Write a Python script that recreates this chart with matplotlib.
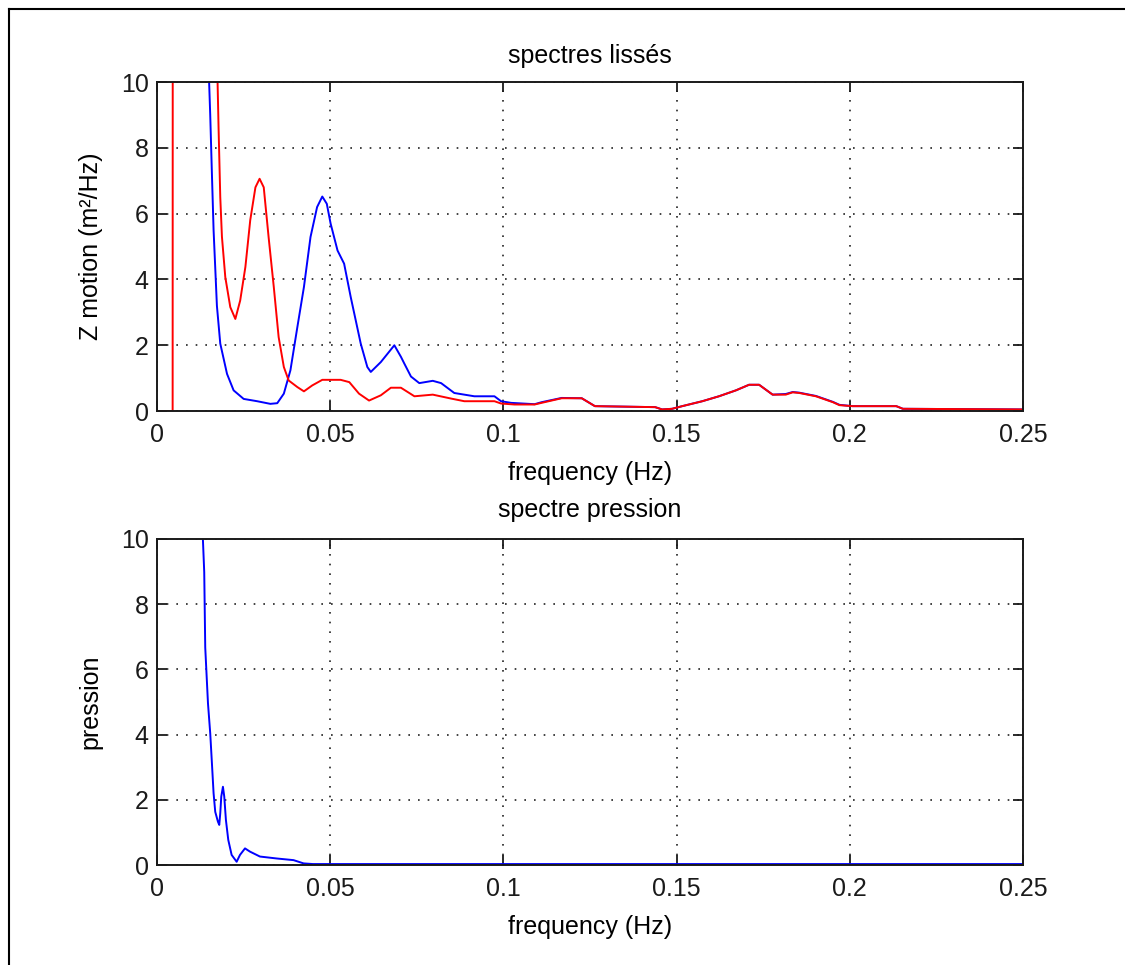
import matplotlib
matplotlib.use("Agg")
import matplotlib.pyplot as plt
from matplotlib.lines import Line2D

# smoothed spectra, Z motion (m2/Hz) -- blue series
freq_z_blue = [0.0100, 0.01487, 0.01535, 0.01584, 0.01632, 0.01728, 0.01825, 0.0202, 0.0221,
               0.0250, 0.0289, 0.0327, 0.0347, 0.0366, 0.0385, 0.0405, 0.0424, 0.0443, 0.0462,
               0.0477, 0.0490, 0.0501, 0.0521, 0.0540, 0.0559, 0.0588, 0.0607, 0.0617, 0.0646,
               0.0685, 0.0704, 0.0714, 0.0733, 0.0757, 0.0796, 0.0820, 0.0858, 0.0916, 0.0974,
               0.0993, 0.1022, 0.1090, 0.1110, 0.1168, 0.1226, 0.1264, 0.1438, 0.1458, 0.1487,
               0.1516, 0.1574, 0.1622, 0.1671, 0.1709, 0.1738, 0.1777, 0.1815, 0.1835, 0.1854,
               0.1902, 0.1951, 0.1970, 0.2008, 0.2134, 0.2153, 0.2500]
z_blue = [30.0, 10.5, 9.0, 7.2, 5.5, 3.2, 2.05, 1.13, 0.63,
          0.37, 0.30, 0.22, 0.24, 0.53, 1.24, 2.55, 3.77, 5.29, 6.2,
          6.52, 6.3, 5.7, 4.88, 4.48, 3.47, 2.05, 1.34, 1.19, 1.49,
          2.0, 1.65, 1.44, 1.05, 0.85, 0.92, 0.85, 0.55, 0.45, 0.45,
          0.30, 0.25, 0.21, 0.27, 0.40, 0.39, 0.15, 0.12, 0.05, 0.07,
          0.15, 0.30, 0.45, 0.63, 0.80, 0.80, 0.50, 0.52, 0.58, 0.56,
          0.46, 0.28, 0.19, 0.15, 0.15, 0.07, 0.05]

# smoothed spectra -- red series
freq_z_red = [0.0, 0.0045, 0.0046, 0.0170, 0.01747, 0.01776, 0.01825, 0.01873, 0.0197,
              0.02114, 0.0226, 0.0240, 0.0255, 0.0269, 0.0284, 0.0296, 0.0308, 0.0322,
              0.0337, 0.0351, 0.0366, 0.0380, 0.0405, 0.0424, 0.0448, 0.0477, 0.0530,
              0.0555, 0.0583, 0.0612, 0.0646, 0.0675, 0.0704, 0.0743, 0.0796, 0.0849,
              0.0887, 0.0974, 0.0993, 0.1032, 0.1090, 0.1110, 0.1168, 0.1226, 0.1264,
              0.1438, 0.1458, 0.1487, 0.1516, 0.1574, 0.1622, 0.1671, 0.1709, 0.1738,
              0.1777, 0.1815, 0.1835, 0.1854, 0.1902, 0.1951, 0.1970, 0.2008, 0.2134,
              0.2153, 0.2500]
z_red = [0.0, 0.0, 40.0, 40.0, 10.0, 8.6, 6.5, 5.3, 4.07,
         3.16, 2.8, 3.36, 4.38, 5.8, 6.8, 7.06, 6.8, 5.29,
         3.77, 2.25, 1.34, 0.93, 0.73, 0.60, 0.78, 0.95, 0.95,
         0.88, 0.53, 0.32, 0.48, 0.71, 0.71, 0.45, 0.50, 0.38,
         0.30, 0.30, 0.23, 0.20, 0.20, 0.25, 0.39, 0.39, 0.15,
         0.12, 0.05, 0.07, 0.15, 0.30, 0.45, 0.63, 0.80, 0.80,
         0.50, 0.50, 0.57, 0.55, 0.45, 0.27, 0.18, 0.15, 0.15,
         0.07, 0.05]

# pressure spectrum
freq_p = [0.0100, 0.01323, 0.01362, 0.01391, 0.0147, 0.01535, 0.01584, 0.01632, 0.0168,
          0.01757, 0.01796, 0.01825, 0.01854, 0.01902, 0.0194, 0.01988, 0.02056, 0.02153,
          0.02298, 0.02394, 0.02539, 0.02684, 0.0297, 0.0346, 0.0394, 0.0423, 0.0450, 0.2500]
pression = [30.0, 10.0, 8.98, 6.67, 4.96, 4.04, 3.12, 2.2, 1.63,
            1.33, 1.23, 1.59, 2.1, 2.4, 2.1, 1.38, 0.77, 0.31,
            0.10, 0.31, 0.51, 0.41, 0.26, 0.20, 0.15, 0.05, 0.03, 0.03]

x_ticks = [0, 0.05, 0.1, 0.15, 0.2, 0.25]
x_tick_labels = ["0", "0.05", "0.1", "0.15", "0.2", "0.25"]
y_ticks = [0, 2, 4, 6, 8, 10]

plt.rcParams["font.family"] = ["Liberation Sans", "DejaVu Sans"]
plt.rcParams["font.size"] = 18


def style_axes(ax, title, ylabel, title_pad):
    ax.set_xlim(0, 0.25)
    ax.set_ylim(0, 10)
    ax.set_xticks(x_ticks)
    ax.set_xticklabels(x_tick_labels)
    ax.set_yticks(y_ticks)
    ax.tick_params(direction="in", length=7.5, width=1.3, top=True, right=True,
                   labelsize=18, colors="#1a1a1a")
    ax.tick_params(axis="x", pad=8.5)
    ax.tick_params(axis="y", pad=6)
    for sp in ax.spines.values():
        sp.set_linewidth(1.4)
        sp.set_color("#1a1a1a")
    ax.grid(True, color="#222222", linestyle=(0, (1, 4.8)), linewidth=1.2)
    ax.set_title(title, fontsize=18, pad=title_pad)
    ax.set_xlabel("frequency (Hz)", fontsize=18, labelpad=10)
    ax.set_ylabel(ylabel, fontsize=18, labelpad=13)


fig = plt.figure(figsize=(11.25, 9.65), dpi=100)
ax1 = fig.add_axes([0.1396, 0.574, 0.7698, 0.341])
ax2 = fig.add_axes([0.1396, 0.1036, 0.7698, 0.338])

ax1.plot(freq_z_blue, z_blue, color="#0000ff", linewidth=1.4)
ax1.plot(freq_z_red, z_red, color="#ff0000", linewidth=1.4)
style_axes(ax1, "spectres lissés", "Z motion (m²/Hz)", 14)

ax2.plot(freq_p, pression, color="#0000ff", linewidth=1.4)
style_axes(ax2, "spectre pression", "pression", 16)

# screenshot frame (top and left edges only)
fig.add_artist(Line2D([9 / 1125, 1.0], [1 - 9 / 965, 1 - 9 / 965],
                      transform=fig.transFigure, color="black", linewidth=1.5))
fig.add_artist(Line2D([9 / 1125, 9 / 1125], [0.0, 1 - 9 / 965],
                      transform=fig.transFigure, color="black", linewidth=1.5))

fig.savefig("out.png", dpi=100)
